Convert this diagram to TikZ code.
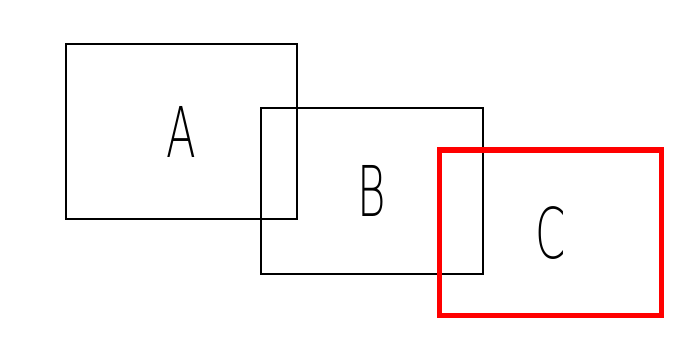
\documentclass[tikz,border=0pt]{standalone}
\usepackage{fontspec}
\newfontfamily\thinfont{DejaVu Sans ExtraLight}
\tikzset{
  box/.style={draw=black, line width=1.6pt, inner sep=0pt, rectangle,
    font=\thinfont\fontsize{70}{70}\selectfont},
  redbox/.style={box, draw=red, line width=5.2pt}
}
\newcommand{\narrow}[1]{\scalebox{0.62}[1]{#1}}
\begin{document}
\begin{tikzpicture}[x=1pt,y=-1pt]
\useasboundingbox (0,0) rectangle (689,346);
\node[box, minimum width=231pt, minimum height=175pt] (a) at (181.5,131.5) {\narrow{A}};
\node[box, minimum width=222pt, minimum height=166pt] (b) at (372,191) {\narrow{B}};
\node[redbox, minimum width=222pt, minimum height=165.5pt] (c) at (550.5,232.75) {\narrow{C}};
\end{tikzpicture}
\end{document}
